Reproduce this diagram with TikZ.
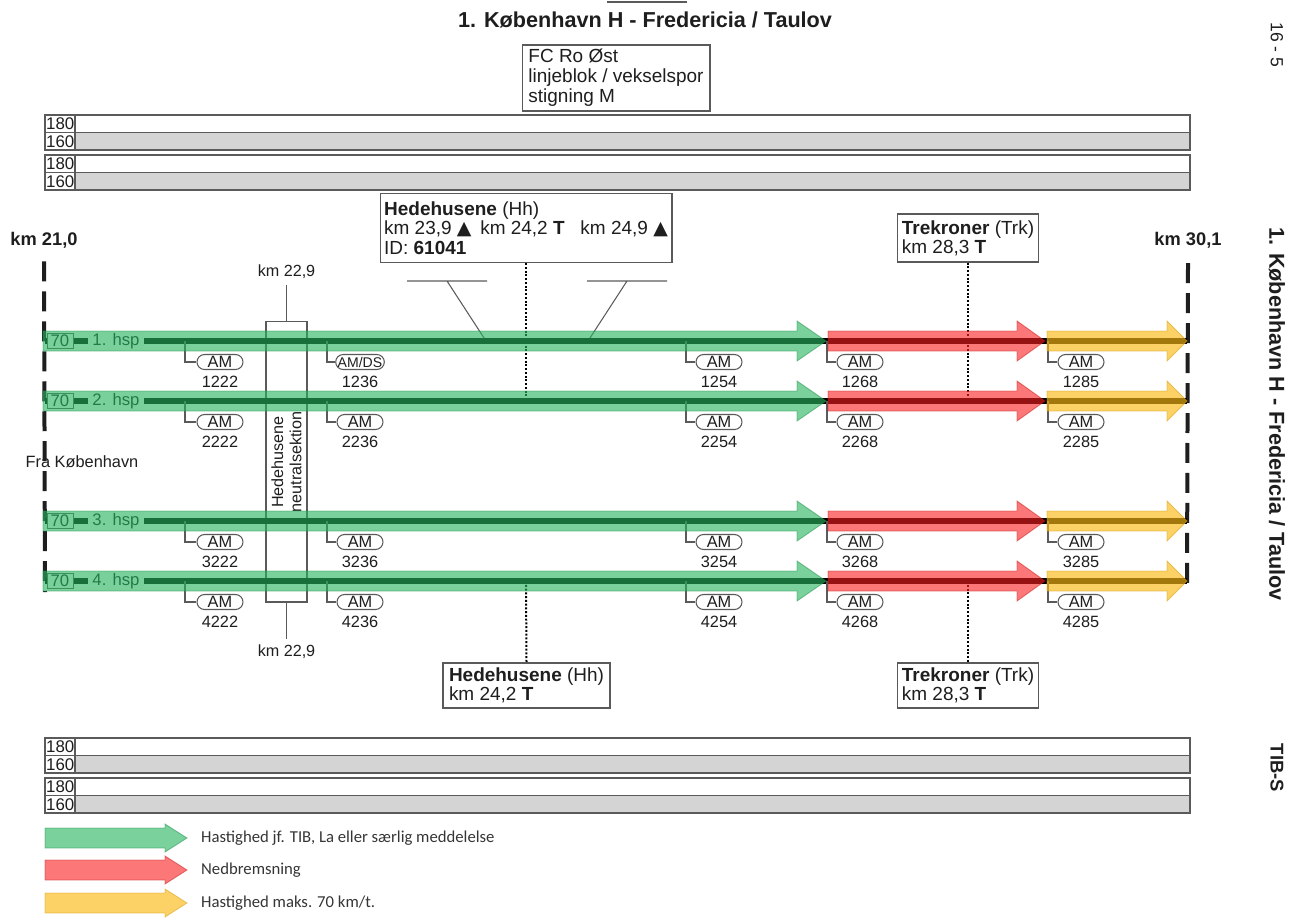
\documentclass[tikz,border=0pt]{standalone}
\usepackage{fontspec}
\setmainfont{Liberation Sans}
\newfontfamily\legendfont{Carlito}
\newfontfamily\trianglefont{DejaVu Sans}
\usetikzlibrary{shapes.misc}

\definecolor{gogreen}{RGB}{40,180,95}
\definecolor{brakered}{RGB}{250,30,30}
\definecolor{slowyellow}{RGB}{250,185,20}
\definecolor{bandgray}{RGB}{212,212,212}
\definecolor{linegray}{RGB}{90,90,90}
\definecolor{inkgray}{RGB}{30,30,30}

\newcommand{\setfs}[2]{\fontsize{#1}{#2}\selectfont}
% style, x start, x tip, y, half shaft, half head, head length
\newcommand{\bandarrow}[7]{%
  \filldraw[#1] (#2,#4-#5) -- (#3-#7,#4-#5) -- (#3-#7,#4-#6) -- (#3,#4)
    -- (#3-#7,#4+#6) -- (#3-#7,#4+#5) -- (#2,#4+#5) -- cycle;}

\begin{document}
\begin{tikzpicture}[x=0.02cm, y=-0.02cm,
  every node/.style={text=inkgray},
  titletext/.style={font=\bfseries\setfs{12.3}{13}},
  infobox/.style={draw=linegray, fill=white, line width=0.6pt, align=left, inner xsep=0.08cm, inner ysep=0pt, font=\setfs{10.8}{11}},
  bandline/.style={draw=linegray, line width=0.7pt},
  bandlabel/.style={anchor=west, inner sep=0pt, font=\setfs{9.6}{10}},
  kmtext/.style={font=\bfseries\setfs{10.4}{11}},
  kmline/.style={draw=inkgray, line width=0.08cm, dash pattern=on 0.4cm off 0.2cm},
  trackline/.style={draw=black, line width=0.12cm},
  speedbox/.style={draw=linegray, fill=white, line width=0.5pt, minimum width=0.52cm, minimum height=0.3cm, inner sep=0pt, font=\setfs{9.5}{10}},
  hsplabel/.style={fill=white, inner xsep=0.08cm, inner ysep=0.02cm, font=\setfs{9.5}{10}},
  amline/.style={draw=linegray, line width=0.6pt},
  ampill/.style={rounded rectangle, draw=linegray, fill=white, line width=0.6pt, minimum width=0.92cm, minimum height=0.3cm, inner sep=0pt, font=\setfs{9.3}{10}},
  amnum/.style={inner sep=0pt, font=\setfs{9.3}{10}},
  smalltext/.style={font=\setfs{9.2}{10}},
  stationline/.style={draw=black, line width=0.04cm, densely dotted},
  thinline/.style={draw=linegray, line width=0.6pt},
  greenarrow/.style={fill=gogreen, fill opacity=0.62, draw=gogreen!80!black, draw opacity=0.5, line width=0.5pt},
  redarrow/.style={fill=brakered, fill opacity=0.6, draw=brakered!80!black, draw opacity=0.5, line width=0.5pt},
  yellowarrow/.style={fill=slowyellow, fill opacity=0.65, draw=slowyellow!85!black, draw opacity=0.5, line width=0.5pt},
  legendtext/.style={anchor=west, text=inkgray!90, font=\legendfont\setfs{9.5}{10}},
  sidetext/.style={rotate=-90, font=\bfseries\setfs{12.3}{13}}]
\useasboundingbox (0,0) rectangle (1297,917);

% header
\draw[thinline] (607,2) -- (687,2);
\node[titletext] (title) at (645,20) {1. København H - Fredericia / Taulov};
\node[infobox, minimum width=3.76cm, minimum height=1.32cm, font=\setfs{10.8}{11.3}] (fcbox) at (616,78) {FC Ro Øst\\linjeblok / vekselspor\\stigning M};

% side texts
\node[sidetext, font=\setfs{10}{11}] (page) at (1277,45) {16 - 5};
\node[sidetext] (route) at (1277,414) {1. København H - Fredericia / Taulov};
\node[sidetext, font=\bfseries\setfs{10.5}{11}] (tibs) at (1277,768) {TIB-S};

% speed bands
\foreach \by in {115,155,738,778} {
  \fill[white] (45,\by) rectangle (1190,\by+35);
  \fill[bandgray] (75,\by+17.5) rectangle (1190,\by+35);
  \draw[bandline] (45,\by) rectangle (1190,\by+35)
    (45,\by+17.5) -- (1190,\by+17.5) (75,\by) -- (75,\by+35);
  \node[bandlabel] (hi\by) at (45.8,\by+9) {180};
  \node[bandlabel] (lo\by) at (45.8,\by+26.5) {160};
}

% km posts
\node[kmtext] (km21) at (44,240) {km 21,0};
\node[kmtext] (km30) at (1188,240) {km 30,1};
\coordinate (km21end) at (45,592);
\coordinate (km30end) at (1187,586);
\draw[kmline] ([yshift=-4pt]km21.south) -- (km21end);
\draw[kmline] ([yshift=-5pt]km30.south) -- (km30end);
\node[font=\setfs{9.3}{10}] (fra) at (82,462) {Fra København};

% neutral section
\node[draw=linegray, line width=0.6pt, minimum width=0.82cm, minimum height=5.62cm] (ns) at (286.5,461.5) {};
\node[rotate=90, align=center, font=\setfs{9.2}{10.3}] (nstext) at (286.5,462) {Hedehusene\\neutralsektion};
\node[smalltext] (nstop) at (286.5,272) {km 22,9};
\node[smalltext] (nsbot) at (286.5,652) {km 22,9};
\draw[thinline] (ns.north) -- (nstop.south);
\draw[thinline] (ns.south) -- (nsbot.north);

% switches
\draw[thinline] (407,281) -- (487,281) (447,281) -- (486,341);
\draw[thinline] (587,281) -- (667,281) (627,281) -- (588,341);

% tracks
\foreach \trk/\ty in {1/341, 2/401, 3/521, 4/581} {
  \coordinate (w\trk) at (45,\ty);
  \coordinate (e\trk) at (1187,\ty);
  \draw[trackline] (w\trk) -- (e\trk);
  \node[speedbox] (v\trk) at (60,\ty) {70};
  \node[hsplabel] (h\trk) at (116,\ty) {\trk. hsp};
  \foreach \col/\lx/\cx/\num in {1/185/220/222, 2/327/360/236, 3/686/719/254, 4/827/860/268, 5/1048/1081/285} {
    \coordinate (a\trk\col) at (\lx,\ty);
    \node[ampill] (p\trk\col) at (\cx,\ty+21) {\ifnum\trk\col=12 {\setfs{8}{8}AM/DS}\else AM\fi};
    \draw[amline] (a\trk\col) |- (p\trk\col.west);
    \node[amnum] (n\trk\col) at (\cx,\ty+41) {\trk\num};
  }
}

% stations
\node[infobox, minimum width=5.84cm, minimum height=1.38cm] (hhtop) at (526,228)
  {\textbf{Hedehusene} (Hh)\\km 23,9 {\trianglefont ▲}\hspace{2pt} km 24,2 \textbf{T}\ \ \ km 24,9 {\trianglefont ▲}\\ID: \textbf{61041}};
\node[infobox, minimum width=3.34cm, minimum height=0.9cm] (hhbot) at (526.5,685.5)
  {\textbf{Hedehusene} (Hh)\\km 24,2 \textbf{T}};
\node[infobox, minimum width=2.8cm, minimum height=0.96cm] (trktop) at (968,238)
  {\textbf{Trekroner} (Trk)\\km 28,3 \textbf{T}};
\node[infobox, minimum width=2.8cm, minimum height=0.9cm] (trkbot) at (968,685.5)
  {\textbf{Trekroner} (Trk)\\km 28,3 \textbf{T}};
\coordinate (hh2) at (526,401);
\coordinate (hh4) at (526,581);
\coordinate (trk2) at (968,401);
\coordinate (trk4) at (968,581);
\draw[stationline] (hhtop.south) -- (hh2);
\draw[stationline] (hh4) -- (hhbot.north);
\draw[stationline] (trktop.south) -- (trk2);
\draw[stationline] (trk4) -- (trkbot.north);

% speed arrows
\foreach \ty in {341,401,521,581} {
  \bandarrow{greenarrow}{43}{826}{\ty}{10}{20}{29}
  \bandarrow{redarrow}{828}{1045}{\ty}{10}{20}{28}
  \bandarrow{yellowarrow}{1047}{1187}{\ty}{10}{20}{20}
}

% legend
\bandarrow{greenarrow}{45}{187}{838}{10}{14}{22}
\bandarrow{redarrow}{45}{187}{870}{10}{14}{22}
\bandarrow{yellowarrow}{45}{187}{903}{10}{14}{22}
\node[legendtext] (lgreen) at (195,838) {Hastighed jf. TIB, La eller særlig meddelelse};
\node[legendtext] (lred) at (195,870) {Nedbremsning};
\node[legendtext] (lyellow) at (195,903) {Hastighed maks. 70 km/t.};
\end{tikzpicture}
\end{document}
